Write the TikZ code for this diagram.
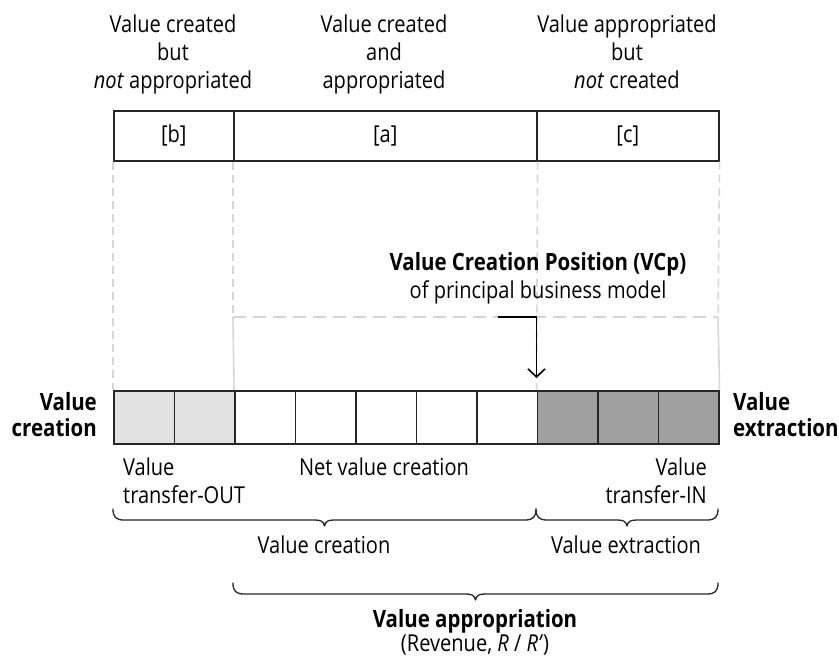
\documentclass[tikz,border=0pt]{standalone}
\usepackage{fontspec}
\setmainfont{Open Sans}[FakeStretch=0.86]
\usetikzlibrary{arrows.meta}
\definecolor{lightcell}{HTML}{E0E1E0}
\definecolor{darkcell}{HTML}{A0A0A0}
\definecolor{guide}{HTML}{D6D6D6}
% horizontal curly brace: left x, tip x, right x, top y of the end curls
\newcommand{\drawhbrace}[4]{%
  \draw[bracepath] (#1,#4) .. controls (#1,{#4+8}) and ({#1+3},{#4+11}) .. ({#1+11},{#4+11})
    -- ({#2-10},{#4+11}) .. controls ({#2-4},{#4+11}) and ({#2-1},{#4+12}) .. (#2,{#4+17})
    .. controls ({#2+1},{#4+12}) and ({#2+4},{#4+11}) .. ({#2+10},{#4+11})
    -- ({#3-11},{#4+11}) .. controls ({#3-3},{#4+11}) and (#3,{#4+8}) .. (#3,#4);}
\newcommand{\boldlabel}[1]{{\fontsize{23.8}{26}\selectfont\bfseries #1}}
\begin{document}
\begin{tikzpicture}[x=1pt,y=-1pt,
  lbl/.style={font=\fontsize{23.3}{28}\selectfont, inner sep=0pt},
  blbl/.style={font=\fontsize{23.8}{26}\selectfont\bfseries, inner sep=0pt},
  frame/.style={draw=black!85, line width=1.6pt},
  topbox/.style={frame, minimum height=50pt, inner sep=0pt, anchor=north west,
    font=\fontsize{23.3}{28}\selectfont},
  cell/.style={frame, minimum width=60.5pt, minimum height=53pt, inner sep=0pt, anchor=north west},
  guideline/.style={draw=guide, line width=1.6pt, dash pattern=on 8pt off 5pt},
  guidelineh/.style={draw=guide, line width=1.6pt, dash pattern=on 13pt off 7pt},
  wall/.style={draw=guide, line width=1.6pt},
  pointer/.style={draw=black, line width=1.6pt, -{Straight Barb[length=8pt,width=17pt,line width=1.6pt]}},
  bracepath/.style={draw=black!85, line width=1.3pt, line cap=round, line join=round},
  ]
\useasboundingbox (0,0) rectangle (839,659);

% headings above the three segments (anchored at the baseline of the last line)
\node[lbl, align=center, anchor=base] (hb) at (173,88) {Value created\\but\\\textit{not} appropriated};
\node[lbl, align=center, anchor=base] (ha) at (384,88) {Value created\\and\\appropriated};
\node[lbl, align=center, anchor=base] (hc) at (627,88) {Value appropriated\\but\\\textit{not} created};

% segment bar
\node[topbox, minimum width=120pt] (boxb) at (113,110) {[b]};
\node[topbox, minimum width=303pt] (boxa) at (233,110) {[a]};
\node[topbox, minimum width=182pt] (boxc) at (536,110) {[c]};

% guide frame of the value creation position
\coordinate (vcpL) at (233,317);
\coordinate (vcpR) at (718,317);
\coordinate (arrS) at (498,317);

% row of cells
\foreach \i/\f in {1/lightcell,2/lightcell,3/white,4/white,5/white,6/white,7/white,8/darkcell,9/darkcell,10/darkcell}
  \node[cell, fill=\f] (c\i) at ({113+(\i-1)*60.5},390) {};

% guide lines
\draw[guideline] (boxb.south west) -- (c1.north west);
\draw[guideline] (boxa.south west) -- (vcpL);
\draw[guideline] (boxc.south east) -- (vcpR);
\draw[guideline] (boxa.south east) -- (c8.north west);
\draw[guidelineh] (vcpL) -- (vcpR);
\draw[wall] (vcpL) -- (c3.north west);
\draw[wall] (vcpR) -- (c10.north east);

% value creation position label and pointer
\node[lbl, align=center, anchor=base] (vcp) at (538,298) {\boldlabel{Value Creation Position (VCp)}\\of principal business model};
\draw[pointer] (arrS) -- (c8.north west |- arrS) -- ([yshift=12pt]c8.north west);

% side labels
\node[blbl, align=right, anchor=base east] (lcreate) at (97,436) {Value\\creation};
\node[blbl, align=left, anchor=base west] (lextract) at (733,436) {Value\\extraction};

% labels under the cells
\node[lbl, align=left, anchor=base west] (tout) at (123,503) {Value\\transfer-OUT};
\node[lbl, anchor=base] (net) at (384,475) {Net value creation};
\node[lbl, align=right, anchor=base east] (tin) at (707,503) {Value\\transfer-IN};

% braces
\drawhbrace{113}{324.5}{536}{509}
\drawhbrace{536}{627}{718}{509}
\drawhbrace{233}{475.5}{718}{583}

\node[lbl, anchor=base] (screate) at (324,553) {Value creation};
\node[lbl, anchor=base] (sextract) at (626,553) {Value extraction};
\node[blbl, anchor=base] (sapprop) at (475,627) {Value appropriation};
\node[lbl, anchor=base] (srev) at (475,651) {(Revenue, \textit{R} / \textit{R’})};
\end{tikzpicture}
\end{document}
